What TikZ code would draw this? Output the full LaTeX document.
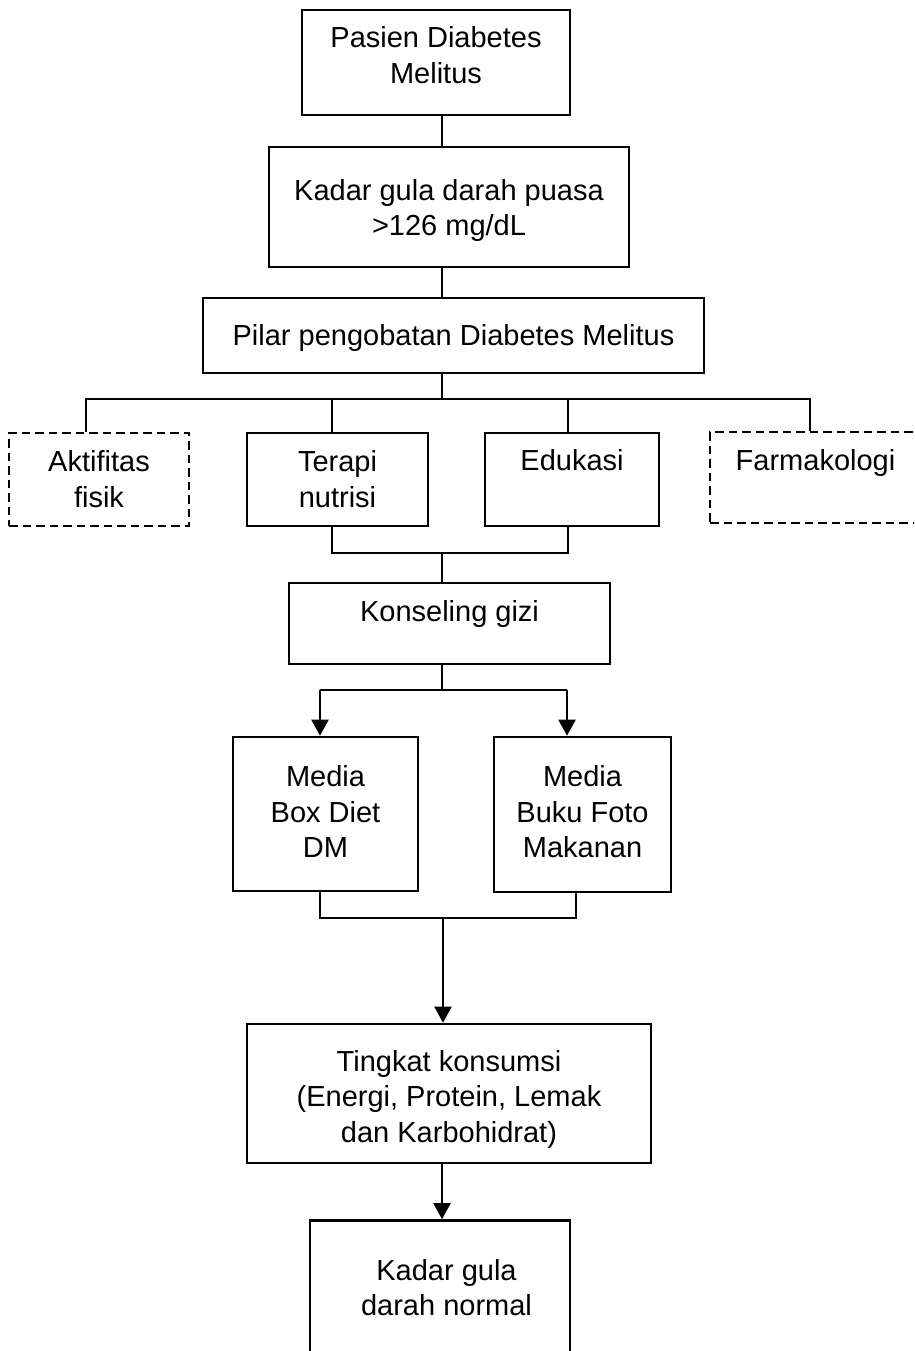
\documentclass[tikz,border=0pt]{standalone}
\usepackage{fontspec}
\setmainfont{Liberation Sans}
\usetikzlibrary{positioning,calc,arrows.meta}
\newcommand{\tstrut}[1]{\rule{0pt}{#1}}
\newcommand{\bstrut}[1]{\rule[-#1]{0pt}{0pt}}
\tikzstyle{box}=[draw=black, line width=2.6pt, rectangle, align=center, inner sep=0pt, font={\fontsize{29}{35.5}\selectfont}]
\tikzstyle{dbox}=[box, dash pattern=on 8.5pt off 5pt]
\tikzstyle{link}=[line width=2pt]
\tikzstyle{arrow}=[link, -{Triangle[length=16pt,width=17pt]}]

\begin{document}
\begin{tikzpicture}[x=1pt, y=-1pt]
        \clip (0,0) rectangle (914,1351);
        \fill[white] (0,0) rectangle (914,1351);
        % kotak utama
        \node (pasien) [box, minimum width=268pt, minimum height=105pt] at (436,62.5) {\tstrut{30pt}Pasien Diabetes\\Melitus\bstrut{23.5pt}};
        \node (kadar) [box, minimum width=360pt, minimum height=120pt] at (449,207) {\tstrut{30pt}Kadar gula darah puasa\\>126 mg/dL\bstrut{8.5pt}};
        \node (pilar) [box, minimum width=501pt, minimum height=75pt] at (453.5,335.5) {\tstrut{30pt}Pilar pengobatan Diabetes Melitus\bstrut{11pt}};
        % empat pilar
        \node (aktif) [dbox, minimum width=180pt, minimum height=93pt] at (99,479.5) {\tstrut{30pt}Aktifitas\\fisik\bstrut{10.1pt}};
        \node (terapi) [box, minimum width=181pt, minimum height=93pt] at (337.5,479.5) {\tstrut{30pt}Terapi\\nutrisi\bstrut{10.1pt}};
        \node (edukasi) [box, minimum width=174pt, minimum height=93pt] at (572,479.5) {\tstrut{30pt}Edukasi\bstrut{47.6pt}};
        \node (farma) [dbox, minimum width=211pt, minimum height=91pt] at (815.5,477.5) {\tstrut{30pt}Farmakologi\bstrut{43.6pt}};
        \node (konseling) [box, minimum width=321pt, minimum height=81pt] at (449.5,623.5) {\tstrut{30pt}Konseling gizi\bstrut{33.6pt}};
        % media
        \node (boxdiet) [box, minimum width=185pt, minimum height=154pt] at (325.5,814) {\tstrut{30pt}Media\\Box Diet\\DM\bstrut{13.6pt}};
        \node (bukufoto) [box, minimum width=177pt, minimum height=155pt] at (582.5,814.5) {\tstrut{30pt}Media\\Buku Foto\\Makanan\bstrut{14.6pt}};
        \node (tingkat) [box, minimum width=404pt, minimum height=139pt] at (449,1093.5) {\tstrut{36pt}Tingkat konsumsi\\(Energi, Protein, Lemak\\dan Karbohidrat)\bstrut{10pt}};
        \node (normal) [box, minimum width=260pt, minimum height=159pt] at (440,1300) {\tstrut{30pt}\hspace*{13pt}Kadar gula\\\hspace*{13pt}darah normal\bstrut{34.5pt}};
        % titik cabang
        \coordinate (hub1) at (442,399);
        \coordinate (t1) at (86,399);
        \coordinate (t2) at (332,399);
        \coordinate (t3) at (568,399);
        \coordinate (t4) at (810,399);
        \coordinate (hub2) at (442,553);
        \coordinate (j1) at (332,553);
        \coordinate (j2) at (568,553);
        \coordinate (hub3) at (442,690);
        \coordinate (a1) at (320,690);
        \coordinate (a2) at (567,690);
        \coordinate (hub4) at (443,918);
        \coordinate (b1) at (320,918);
        \coordinate (b2) at (576,918);
        \coordinate (hub5) at (442,1200);
        % garis
        \draw[link] (pasien.south -| hub1) -- (kadar.north -| hub1);
        \draw[link] (kadar.south -| hub1) -- (pilar.north -| hub1);
        \draw[link] (pilar.south -| hub1) -- (hub1);
        \draw[link] (t1 |- aktif.north) -- (t1) -- (t4) -- (t4 |- farma.north);
        \draw[link] (t2) -- (t2 |- terapi.north);
        \draw[link] (t3) -- (t3 |- edukasi.north);
        \draw[link] (j1 |- terapi.south) -- (j1) -- (j2) -- (j2 |- edukasi.south);
        \draw[link] (hub2) -- (konseling.north -| hub2);
        \draw[link] (konseling.south -| hub3) -- (hub3);
        \draw[link] (a1) -- (a2);
        \draw[arrow] (a1) -- (a1 |- boxdiet.north);
        \draw[arrow] (a2) -- (a2 |- bukufoto.north);
        \draw[link] (b1 |- boxdiet.south) -- (b1) -- (b2) -- (b2 |- bukufoto.south);
        \draw[arrow] (hub4) -- (hub4 |- tingkat.north);
        \draw[arrow] (tingkat.south -| hub5) -- (normal.north -| hub5);
\end{tikzpicture}
\end{document}
